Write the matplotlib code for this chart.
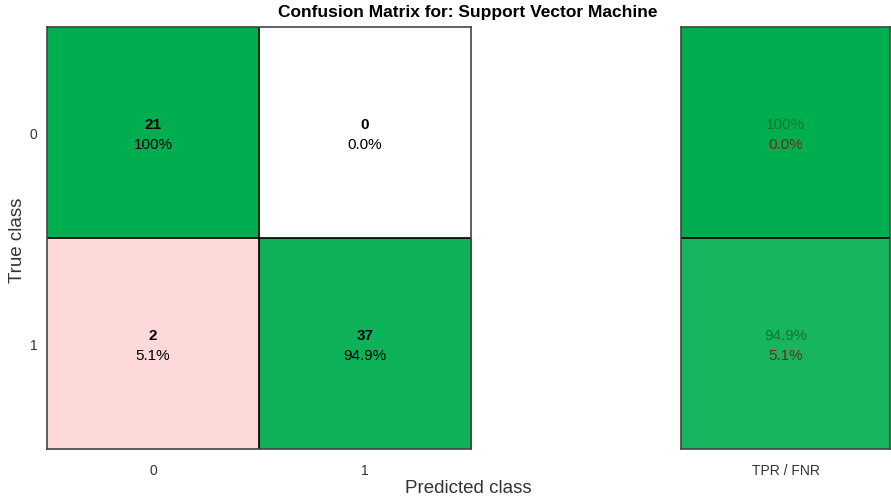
import matplotlib
matplotlib.use('Agg')
import matplotlib.pyplot as plt
import numpy as np
from matplotlib.colors import LinearSegmentedColormap

plt.rcParams['font.family'] = ['Liberation Sans', 'DejaVu Sans']

classes = ['0', '1']
counts = np.array([[21, 0],
                   [2, 37]])
title = 'Confusion Matrix for: Support Vector Machine'

row_tot = counts.sum(axis=1, keepdims=True)
pct = counts / row_tot * 100
tpr = np.diag(pct)
fnr = 100 - tpr

green = LinearSegmentedColormap.from_list('g', ['#ffffff', '#00ad4f'])
red = LinearSegmentedColormap.from_list('r', [(0, '#ffffff'), (0.05, '#ffdada'), (1, '#e06060')])

# cell colours: diagonal green, off-diagonal red, shade by row percentage
rgb = np.zeros((2, 2, 4))
for i in range(2):
    for j in range(2):
        if i == j:
            rgb[i, j] = green(pct[i, j] / 100)
        else:
            rgb[i, j] = red(pct[i, j] / 100)

def fmt(v):
    return '%.0f%%' % v if v == 100 else '%.1f%%' % v

fig = plt.figure(figsize=(8.91, 5.02), dpi=100)
ax = fig.add_axes([47/891, 52/502, 424/891, 422/502])
ax.imshow(rgb, aspect='auto', extent=(-0.5, 1.5, 1.5, -0.5))
ax.axvline(0.5, color='black', lw=1.2)
ax.axhline(0.5, color='black', lw=1.2)
for i in range(2):
    for j in range(2):
        ax.text(j, i - 0.042, str(counts[i, j]), ha='center', va='center',
                fontsize=11, fontweight='bold', color='black')
        ax.text(j, i + 0.053, fmt(pct[i, j]), ha='center', va='center', fontsize=11, color='black')
ax.set_xticks(range(2))
ax.set_xticklabels(classes)
ax.set_yticks(range(2))
ax.set_yticklabels(classes)
ax.tick_params(length=0, labelsize=10, labelcolor='#333333', pad=10)
ax.tick_params(axis='y', pad=7)
for sp in ax.spines.values():
    sp.set_color('#444444')
    sp.set_linewidth(1.2)

# summary column (TPR / FNR)
ax2 = fig.add_axes([681/891, 52/502, 209/891, 422/502])
summ = np.array([green((t / 100) ** 2) for t in tpr]).reshape(2, 1, 4)
ax2.imshow(summ, aspect='auto', extent=(-0.5, 0.5, 1.5, -0.5))
ax2.axhline(0.5, color='black', lw=1.2)
for i in range(2):
    ax2.text(0, i - 0.042, fmt(tpr[i]), ha='center', va='center', fontsize=11, color='#0b7a2c')
    ax2.text(0, i + 0.053, '%.1f%%' % fnr[i], ha='center', va='center', fontsize=11, color='#6e2a12')
ax2.set_xticks([0])
ax2.set_xticklabels(['TPR / FNR'])
ax2.set_yticks([])
ax2.tick_params(length=0, labelsize=10, labelcolor='#333333', pad=10)
for sp in ax2.spines.values():
    sp.set_color('#444444')
    sp.set_linewidth(1.2)

fig.text(468/891, 1 - 12/502, title, ha='center', va='center', fontsize=12.5, fontweight='bold')
fig.text(468/891, 1 - 489/502, 'Predicted class', ha='center', va='center', fontsize=13.5, color='#333333')
fig.text(18/891, 1 - 240/502, 'True class', ha='center', va='center', rotation=90, fontsize=13.5, color='#333333')

fig.savefig('out.png', dpi=100)
